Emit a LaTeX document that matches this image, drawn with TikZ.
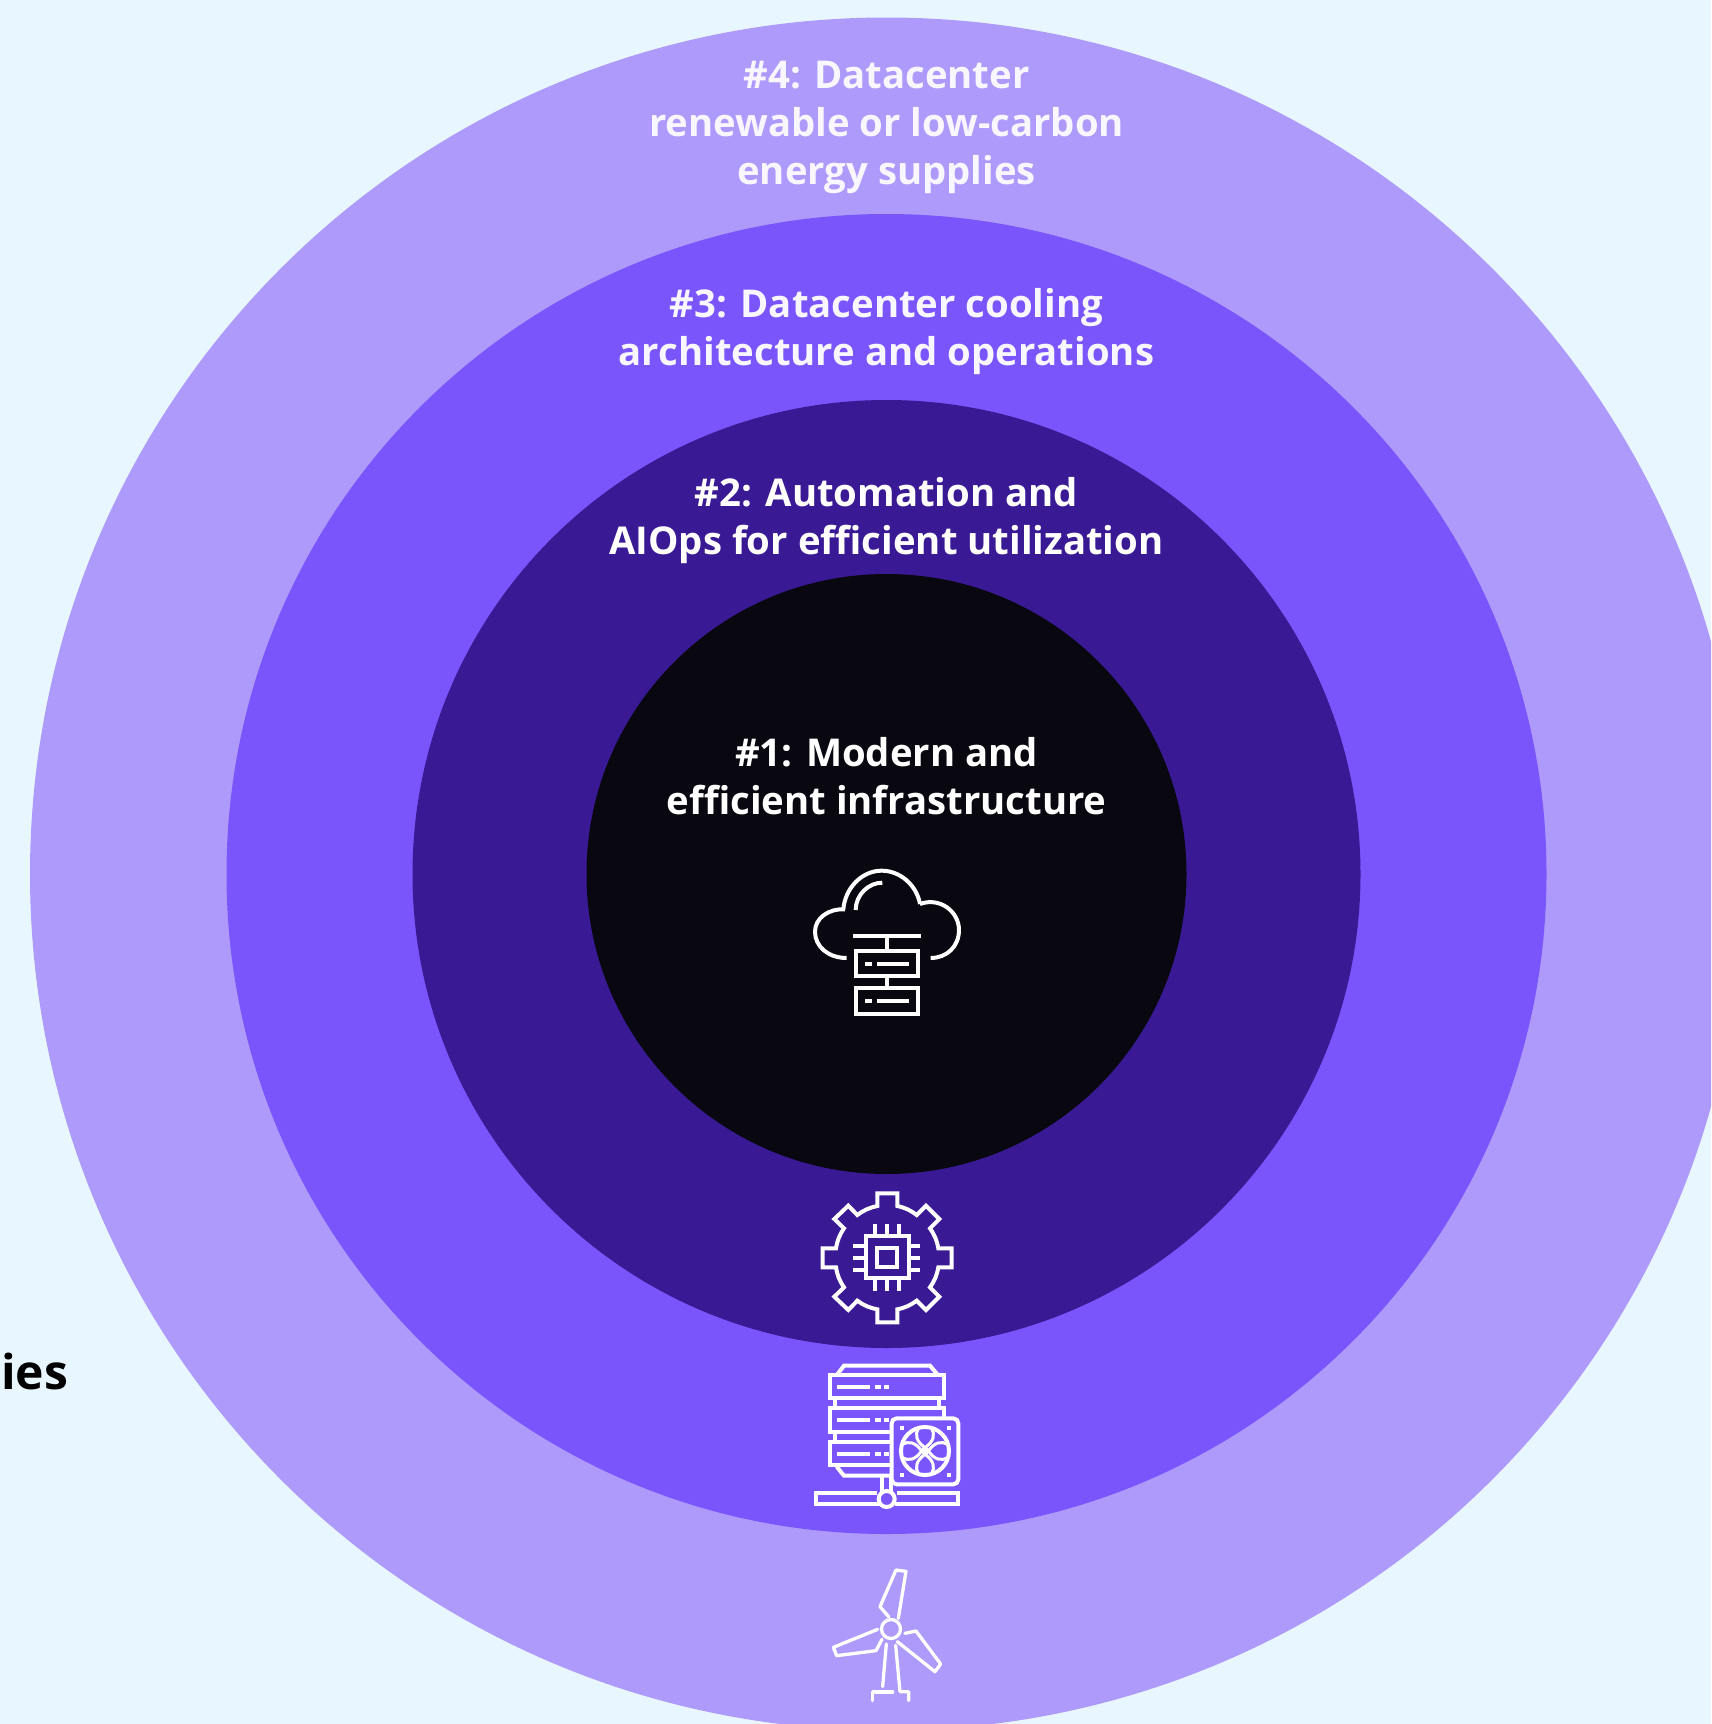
\documentclass[tikz,border=0pt]{standalone}
\usepackage{fontspec}
\setmainfont{Open Sans}
\definecolor{skybg}{HTML}{E8F7FF}
\definecolor{ringfour}{HTML}{AE9AFB}
\definecolor{ringthree}{HTML}{7A55FB}
\definecolor{ringtwo}{HTML}{3A1A94}
\definecolor{ringone}{HTML}{090811}
\definecolor{softwhite}{HTML}{F8F6FF}
\tikzset{
  ringlabel/.style={align=center,inner sep=0pt,font=\bfseries\fontsize{38.3}{48}\selectfont},
  iconline/.style={draw=white,line width=4pt},
  thinicon/.style={x=0.3333pt,y=-0.3333pt}
}
\begin{document}
\begin{tikzpicture}[x=1pt,y=-1pt]
\clip (0,0) rectangle (1711,1724);
\coordinate[] (O) at (886.5,874);
\fill[skybg] (0,0) rectangle (1711,1724);
\fill[ringfour] (O) circle (856.5pt);
\fill[ringthree] (O) circle (660pt);
\fill[ringtwo] (O) circle (474pt);
\fill[ringone] (O) circle (300pt);
\node[ringlabel,text=softwhite] (labelfour) at (886.5,127.5) {\#4: Datacenter\\renewable or low-carbon\\energy supplies};
\node[ringlabel,text=softwhite] (labelthree) at (886.5,332) {\#3: Datacenter cooling\\architecture and operations};
\node[ringlabel,text=white] (labeltwo) at (886.5,521) {\#2: Automation and\\AIOps for efficient utilization};
\node[ringlabel,text=white] (labelone) at (886.5,776.5) {\#1: Modern and\\efficient infrastructure};
\node[anchor=base west,inner sep=0pt,font=\bfseries\fontsize{48}{60}\selectfont] (cutword) at (1,1389) {ies};
% cloud
\begin{scope}[shift={(790,850)},thinicon]
\draw[iconline] (170,324) .. controls (115,324) and (75,290) .. (75,245) .. controls (75,205) and (115,175) .. (165,178);
\draw[iconline] (160,178) .. controls (165,115) and (215,62) .. (275,62) .. controls (330,62) and (380,105) .. (390,162);
\draw[iconline] (390,162) .. controls (450,140) and (507,185) .. (507,240) .. controls (507,290) and (470,324) .. (422,324);
\draw[iconline] (197,180) .. controls (197,135) and (235,98) .. (277,98);
\draw[iconline] (188,259)--(393,259) (291,259)--(291,303) (291,379)--(291,415);
\draw[iconline] (197,303) rectangle (385,379);
\draw[iconline] (197,415) rectangle (385,492);
\foreach \y in {342,454}
  \draw[iconline] (225,\y)--(245,\y) (262,\y)--(356,\y);
\end{scope}
% gear
\begin{scope}[shift={(800,1180)},thinicon]
\draw[iconline] (232,78)--(232,40)--(292,40)--(292,78) to[bend left=12] (350,105)
  --(378,77)--(418,117)--(390,145) to[bend left=12] (415,205)
  --(455,205)--(455,262)--(415,262) to[bend left=12] (390,322)
  --(418,350)--(378,390)--(350,362) to[bend left=12] (292,388)
  --(292,427)--(232,427)--(232,388) to[bend left=12] (172,362)
  --(145,390)--(103,350)--(132,322) to[bend left=12] (108,262)
  --(68,262)--(68,205)--(108,205) to[bend left=12] (132,145)
  --(103,117)--(145,77)--(172,105) to[bend left=12] cycle;
\draw[iconline] (197,168) rectangle (327,295);
\draw[iconline] (232,203) rectangle (292,262);
\foreach \x in {224,262,298}
  \draw[iconline] (\x,133)--(\x,168) (\x,295)--(\x,332);
\foreach \y in {197,233,269}
  \draw[iconline] (160,\y)--(197,\y) (327,\y)--(360,\y);
\end{scope}
% server and fan
\begin{scope}[shift={(800,1355)},thinicon]
\draw[iconline] (112,58)--(132,32)--(390,32)--(412,58);
\draw[iconline] (90,60) rectangle (432,128);
\draw[iconline] (105,128)--(105,160) (418,128)--(418,160);
\draw[iconline] (278,230)--(90,230)--(90,160)--(432,160)--(432,190);
\draw[iconline] (105,230)--(105,262);
\draw[iconline] (278,262)--(90,262)--(90,330)--(278,330);
\draw[iconline] (110,335)--(132,362)--(278,362);
\foreach \y in {96,196,296}
  \draw[iconline] (112,\y)--(210,\y) (225,\y)--(242,\y) (253,\y)--(268,\y);
\draw[iconline] (245,362)--(245,410) (272,362)--(272,408);
\draw[iconline] (232,415)--(48,415)--(48,447)--(238,447);
\draw[iconline] (290,415)--(475,415)--(475,447)--(285,447);
\draw[iconline] (260,432) circle (8pt);
\draw[iconline,rounded corners=5pt] (275,190) rectangle (475,388);
\draw[iconline] (375,288) circle (24pt);
\draw[iconline] (375,288) circle (2.2pt);
\foreach \a in {0,90,180,270}
  \draw[iconline,line width=3pt,shift={(375,288)},rotate=\a] (0,-10) .. controls (-28,-30) and (-30,-50) .. (-20,-68) (0,-10) .. controls (28,-30) and (30,-50) .. (20,-68);
\foreach \x/\y in {305/218,447/218,305/360,447/360}
  \fill[white] (\x-6,\y-6) rectangle (\x+6,\y+6);
\end{scope}
% turbine
\begin{scope}[shift={(810,1560)},thinicon,line cap=round,line join=round]
\draw[iconline,line width=3.3pt] (243,207) circle (9.5pt);
\draw[iconline,line width=3.3pt] (236,170)--(210,140)--(258,30)--(288,34)--(265,175);
\draw[iconline,line width=3.3pt] (203,208)--(70,262)--(80,287)--(198,272)--(216,238);
\draw[iconline,line width=3.3pt] (285,220)--(318,213)--(392,312)--(375,335)--(262,245);
\draw[iconline,line width=3.3pt] (229,252)--(218,380);
\draw[iconline,line width=3.3pt] (257,256)--(270,395)--(296,395)--(296,422);
\draw[iconline,line width=3.3pt] (248,396)--(188,396)--(188,422);
\end{scope}
\end{tikzpicture}
\end{document}
